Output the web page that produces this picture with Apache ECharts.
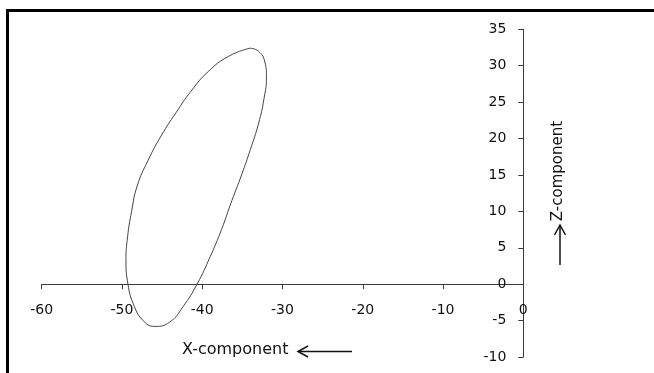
<!DOCTYPE html>
<html>
<head>
<meta charset="utf-8">
<script src="https://cdn.jsdelivr.net/npm/echarts@6/dist/echarts.min.js"></script>
<style>
html, body { margin: 0; padding: 0; background: #fff; }
#chart { width: 654px; height: 373px; }
</style>
</head>
<body>
<div id="chart"></div>
<script>
// loop, going clockwise from the top
var xValues = [-34.1, -33.0, -32.2, -32.0, -32.3, -33.0, -34.0, -35.1, -36.3, -37.6, -39.0, -40.65,
    -42.4, -44.05, -45.9, -47.4, -48.6, -49.25, -49.5, -49.3, -48.8, -48.1, -46.75, -45.05,
    -43.3, -41.4, -39.25, -36.7, -34.1];
var zValues = [32.4, 32.0, 30.5, 28.5, 25.5, 22.0, 18.5, 15.0, 11.5, 7.5, 3.8, 0,
    -3.1, -5.2, -5.8, -4.95, -2.65, 0, 3.3, 6.5, 10.0, 13.5, 17.0, 20.5,
    23.5, 26.5, 29.2, 31.3, 32.4];
var xTicks = { min: -60, max: 0, step: 10 };
var zTicks = { min: -10, max: 35, step: 5 };

var loopData = xValues.map(function (x, i) { return [x, zValues[i]]; });

var chart = echarts.init(document.getElementById('chart'));
var labelFont = 'DejaVu Sans';
var gridTop = 29.3, gridBottom = 16, chartH = 373;
// move the x axis up to z = 0
var plotH = chartH - gridTop - gridBottom;
var zeroOffset = -plotH * (0 - zTicks.min) / (zTicks.max - zTicks.min);

var option = {
    animation: false,
    backgroundColor: '#fff',
    grid: {
        left: 41.7,
        right: 130.7,
        top: gridTop,
        bottom: gridBottom,
        containLabel: false,
        outerBoundsMode: 'none'
    },
    xAxis: {
        type: 'value',
        min: xTicks.min,
        max: xTicks.max,
        interval: xTicks.step,
        offset: zeroOffset,
        axisLine: { show: true, onZero: false, lineStyle: { color: '#3a3a3a', width: 1 } },
        axisTick: { show: true, length: 5, lineStyle: { color: '#3a3a3a' } },
        axisLabel: { color: '#111', fontFamily: labelFont, fontSize: 14, margin: 19, hideOverlap: false, showMinLabel: true, showMaxLabel: true },
        splitLine: { show: false }
    },
    yAxis: {
        type: 'value',
        position: 'right',
        min: zTicks.min,
        max: zTicks.max,
        interval: zTicks.step,
        axisLine: { show: true, onZero: false, lineStyle: { color: '#3a3a3a', width: 1 } },
        axisTick: { show: true, inside: true, length: 5, lineStyle: { color: '#3a3a3a' } },
        axisLabel: { inside: true, color: '#111', fontFamily: labelFont, fontSize: 14, margin: 17, hideOverlap: false },
        splitLine: { show: false }
    },
    series: [{
        type: 'line',
        data: loopData,
        smooth: 0.5,
        showSymbol: false,
        lineStyle: { color: '#444', width: 1 }
    }],
    graphic: [
        // frame (top and left)
        { type: 'rect', shape: { x: 6, y: 9, width: 648, height: 3 }, style: { fill: '#000' } },
        { type: 'rect', shape: { x: 6, y: 9, width: 3, height: 364 }, style: { fill: '#000' } },
        // X title with arrow pointing left
        {
            type: 'text', left: 182, top: 342,
            style: { text: 'X-component', fill: '#111', font: '16px "DejaVu Sans"' }
        },
        { type: 'polyline', shape: { points: [[298, 351.5], [352, 351.5]] }, style: { stroke: '#111', lineWidth: 1.5, fill: null } },
        { type: 'polyline', shape: { points: [[308, 346], [298, 351.5], [308, 357]] }, style: { stroke: '#111', lineWidth: 1.5, fill: null } },
        // Z title with arrow pointing up
        {
            type: 'text', x: 558, y: 171, rotation: Math.PI / 2,
            style: { text: 'Z-component', fill: '#111', font: '15px "DejaVu Sans"', align: 'center', verticalAlign: 'middle' }
        },
        { type: 'polyline', shape: { points: [[560, 225], [560, 265]] }, style: { stroke: '#111', lineWidth: 1.5, fill: null } },
        { type: 'polyline', shape: { points: [[554.5, 235], [560, 225], [565.5, 235]] }, style: { stroke: '#111', lineWidth: 1.5, fill: null } }
    ]
};

chart.setOption(option);
</script>
</body>
</html>
